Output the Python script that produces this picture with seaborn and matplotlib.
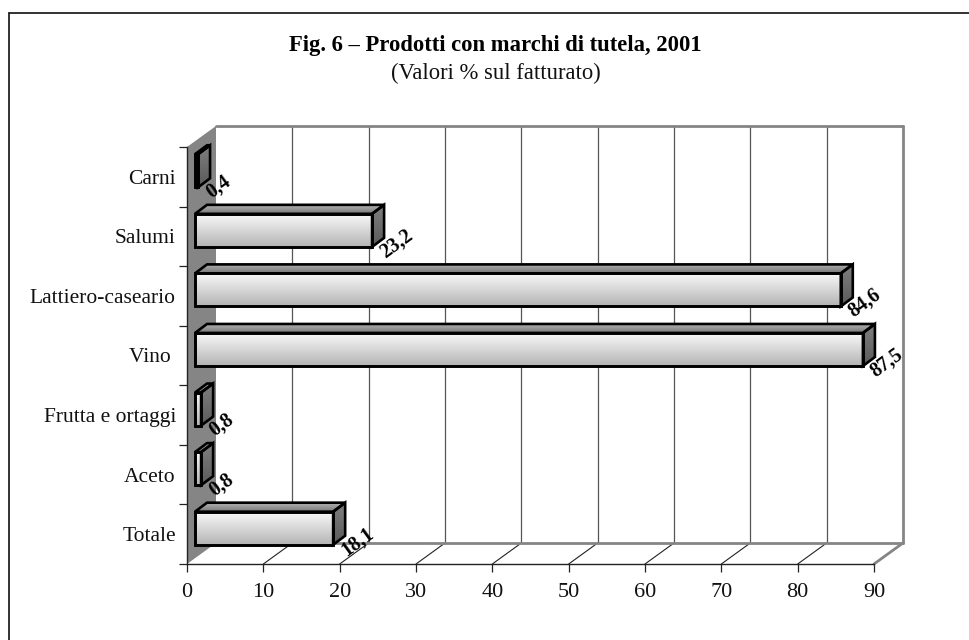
import numpy as np
import matplotlib
matplotlib.use("Agg")
import matplotlib.pyplot as plt
import seaborn as sns
from matplotlib.lines import Line2D
from matplotlib.patches import Polygon
from matplotlib.path import Path
from matplotlib.transforms import Affine2D, IdentityTransform

# DATA
categories = ["Carni", "Salumi", "Lattiero-caseario", "Vino ", "Frutta e ortaggi", "Aceto", "Totale"]
values = [0.4, 23.2, 84.6, 87.5, 0.8, 0.8, 18.1]
x_ticks = [0, 10, 20, 30, 40, 50, 60, 70, 80, 90]
title = "Fig. 6 – Prodotti con marchi di tutela, 2001"
subtitle = "(Valori % sul fatturato)"

W, H = 970, 640
WALL_DX, WALL_DY = 29, 21    # depth of the chart box
BAR_DX, BAR_DY = 8, 6        # front of the bars, from the front plane
BAR_DEPTH_X, BAR_DEPTH_Y = 12, 9
GRAY = "#858585"
ID = IdentityTransform()

sns.set_theme(style="white")
plt.rcParams["font.family"] = ["Liberation Serif", "DejaVu Serif"]

fig = plt.figure(figsize=(W / 100, H / 100), dpi=100, facecolor="white")
ax = fig.add_axes([187 / W, (H - 564) / H, 687 / W, 417 / H])
ax.patch.set_alpha(0)

# BARS
sns.barplot(x=values, y=categories, orient="h", width=0.555, fill=False,
            color="black", linewidth=1.9, ax=ax, zorder=6, errorbar=None)
ax.set_xlim(0, 90)
ax.set_ylim(6.5, -0.5)
ax.set_xlabel("")
ax.set_ylabel("")


def disp(x, y, dx=0, dy=0):
    px = ax.transData.transform((x, y))
    return px[0] + dx, px[1] + dy


def shade(pts, top, bottom):
    pts = np.array(pts)
    a = matplotlib.colors.to_rgb(top)
    b = matplotlib.colors.to_rgb(bottom)
    grad = np.linspace(a, b, 64).reshape(64, 1, 3)
    im = ax.imshow(grad, extent=(pts[:, 0].min(), pts[:, 0].max(), pts[:, 1].min(), pts[:, 1].max()),
                   transform=ID, aspect="auto", zorder=3, interpolation="bilinear")
    im.set_clip_path(Path(np.vstack([pts, pts[:1]])), ID)
    ax.add_patch(Polygon(pts, closed=True, fill=False, edgecolor="black", linewidth=1.9,
                         transform=ID, zorder=5, clip_on=False, joinstyle="miter"))


# CHART BOX
bl = disp(0, 6.5)
tl = disp(0, -0.5)
br = disp(90, 6.5)
tr = disp(90, -0.5)
back = lambda p: (p[0] + WALL_DX, p[1] + WALL_DY)

ax.add_patch(Polygon([bl, tl, back(tl), back(bl)], closed=True, facecolor=GRAY, edgecolor="none",
                     transform=ID, zorder=1, clip_on=False))

for t in x_ticks[1:]:
    f = disp(t, 6.5)
    last = t == x_ticks[-1]
    ax.plot([f[0], f[0] + WALL_DX], [f[1], f[1] + WALL_DY], transform=ID, clip_on=False, zorder=2,
            color=GRAY if last else "#222222", lw=2 if last else 0.8)
    ax.plot([f[0] + WALL_DX] * 2, [f[1] + WALL_DY, tr[1] + WALL_DY], transform=ID, clip_on=False, zorder=2,
            color=GRAY if last else "#555555", lw=2 if last else 0.9)

ax.plot([back(tl)[0], back(tr)[0]], [back(tl)[1]] * 2, transform=ID, color=GRAY, lw=2, clip_on=False, zorder=2)
ax.plot([back(bl)[0], back(br)[0]], [back(bl)[1]] * 2, transform=ID, color=GRAY, lw=2, clip_on=False, zorder=2)

# BAR FACES
shift = Affine2D().translate(BAR_DX, BAR_DY)
for bar, v in zip(ax.patches[:len(values)], values):
    x0, w = bar.get_x(), bar.get_width()
    y0, h = bar.get_y(), bar.get_height()
    bar.set_transform(ax.transData + shift)
    bar.set_clip_on(False)

    a = disp(x0, y0 + h, BAR_DX, BAR_DY)   # front top left
    b = disp(x0 + w, y0 + h, BAR_DX, BAR_DY)
    c = disp(x0 + w, y0, BAR_DX, BAR_DY)
    d = disp(x0, y0, BAR_DX, BAR_DY)
    if a[1] < d[1]:
        a, b, c, d = d, c, b, a
    up = lambda p: (p[0] + BAR_DEPTH_X, p[1] + BAR_DEPTH_Y)

    shade([a, b, c, d], "#fbfbfb", "#b4b4b4")
    shade([a, b, up(b), up(a)], "#b0b0b0", "#787878")
    shade([b, c, up(c), up(b)], "#808080", "#5a5a5a")

    label = f"{v:.1f}".replace(".", ",")
    ax.text(c[0] + 10, c[1] - 7, label, transform=ID, rotation=36, rotation_mode="anchor",
            ha="left", va="center", fontsize=14.5, fontweight="bold", color="black", zorder=7, clip_on=False)

# AXES
for side in ["top", "right"]:
    ax.spines[side].set_visible(False)
for side in ["left", "bottom"]:
    ax.spines[side].set_color("#222222")
    ax.spines[side].set_linewidth(1.0)
    ax.spines[side].set_zorder(2)

ax.set_xticks(x_ticks)
ax.set_xticklabels([str(t) for t in x_ticks])
ax.set_yticks(range(len(categories)))
ax.set_yticklabels(categories)
ax.set_yticks(np.arange(len(categories) + 1) - 0.5, minor=True)
ax.tick_params(axis="y", which="major", length=0, pad=8, labelsize=15.5, labelcolor="#111111", left=False)
ax.tick_params(axis="y", which="minor", length=5.8, width=0.9, color="#222222", left=True)
ax.tick_params(axis="x", which="major", length=5.8, width=0.9, color="#222222", pad=8, labelsize=16,
               labelcolor="#111111", bottom=True)

# TITLE
fig.text(495 / W, 1 - 46 / H, title, ha="center", va="center", fontsize=16.25, fontweight="bold", color="black")
fig.text(496 / W, 1 - 73 / H, subtitle, ha="center", va="center", fontsize=16.3, color="#111111")

# FRAME
fig.add_artist(Line2D([9.5 / W, 9.5 / W], [0, 1 - 13 / H], color="#222222", lw=1.3))
fig.add_artist(Line2D([9.5 / W, 1], [1 - 13 / H, 1 - 13 / H], color="#222222", lw=1.3))

fig.savefig("out.png", dpi=100)
